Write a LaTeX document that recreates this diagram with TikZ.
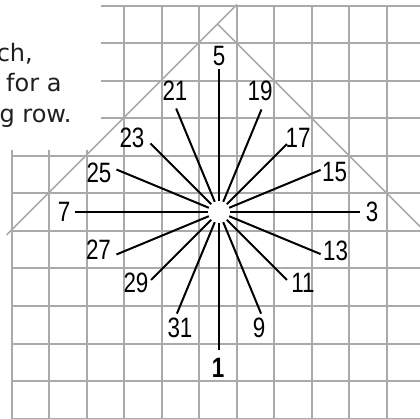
\documentclass[tikz,border=0pt]{standalone}
\usepackage{fontspec}
\setmainfont{DejaVu Sans}
\newfontfamily\numfont[FakeStretch=0.8]{Liberation Sans}
\usetikzlibrary{calc}
\definecolor{gridgray}{RGB}{170,170,170}
\begin{document}
\begin{tikzpicture}[x=1pt,y=-1pt,
  gridline/.style={gridgray,line width=2pt},
  roof/.style={gridgray,line width=1.6pt},
  spoke/.style={black,line width=2pt},
  num/.style={inner sep=0pt,font=\numfont\fontsize{28}{28}\selectfont},
  prose/.style={inner sep=0pt,anchor=base east,font=\fontsize{24}{30}\selectfont,text=black!88}]
\useasboundingbox (0,0) rectangle (420,419);
\clip (0,0) rectangle (420,419);
% grid
\foreach \k in {0,...,11}{
  \pgfmathsetmacro{\yy}{6+37.5*\k}
  \draw[gridline] (11.5,\yy) -- (430,\yy);
}
\foreach \j in {0,...,11}{
  \pgfmathsetmacro{\xx}{11.5+37.5*\j}
  \draw[gridline] (\xx,6) -- (\xx,418.5);
}
% white panel behind the text
\fill[white] (-1,-1) rectangle (101,150);
% roof lines
\coordinate (apex) at (217.5,24);
\coordinate (roofL) at (6.5,235);
\coordinate (roofT) at (237,4.5);
\coordinate (roofR) at (430,236.5);
\draw[roof] (roofL) -- (roofT);
\draw[roof] (apex) -- (roofR);
% spokes
\coordinate (C) at (219,212);
\foreach \a/\r/\t/\lx/\ly in {
  90/143/5/219/56, 67.5/111/19/260/91, 45/96/17/298/137.5, 22.5/110/15/334.5/172.5,
  0/141/3/372/212, -22.5/110/13/335.5/251, -45/96/11/303/283, -67.5/110/9/259/328,
  -112.5/110/31/180/328, -135/96/29/136/283, -157.5/111/27/98.5/250,
  180/144/7/64/211.7, 157.5/111/25/99/172.5, 135/97/23/132/137.5, 112.5/112/21/175/91}{
  \coordinate (in\t) at ($(C)+(\a:11pt)$);
  \coordinate (out\t) at ($(C)+(\a:\r pt)$);
  \node[num] (n\t) at (\lx,\ly) {\t};
  \draw[spoke] (in\t) -- (out\t);
}
\coordinate (in1) at ($(C)+(-90:11pt)$);
\coordinate (out1) at ($(C)+(-90:138pt)$);
\node[num,font=\numfont\bfseries\fontsize{28}{28}\selectfont] (n1) at (218,368) {1};
\draw[spoke] (in1) -- (out1);
% cut-off text
\node[prose] (t1) at (33,62) {ch,};
\node[prose] (t2) at (61.7,92) {for a};
\node[prose] (t3) at (71.7,122.7) {g row.};
\end{tikzpicture}
\end{document}
